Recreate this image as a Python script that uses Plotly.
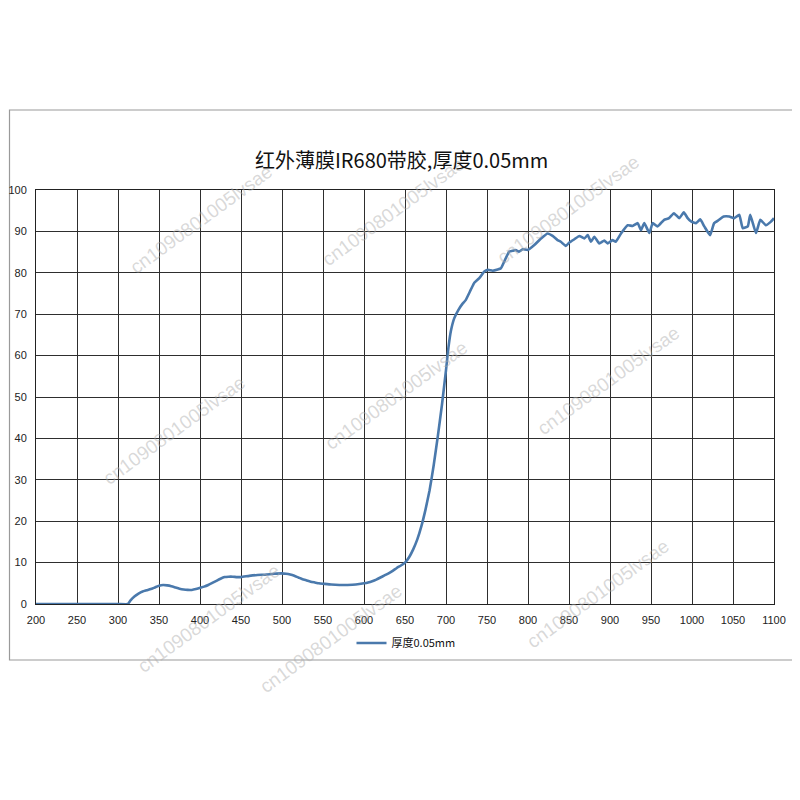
import plotly.graph_objects as go

# ---- data ----
wavelength = [200, 250, 300, 312, 315, 320, 325, 330, 335, 340, 345, 350, 355, 360, 365, 370,
              375, 380, 385, 390, 395, 400, 405, 410, 415, 420, 425, 430, 435, 440, 445, 450,
              460, 470, 480, 490, 500, 505, 510, 515, 520, 525, 530, 535, 540, 545, 550, 560,
              570, 580, 590, 600, 605, 610, 615, 620, 625, 630, 635, 640, 645, 650, 655, 660,
              665, 670, 675, 680, 685, 690, 695, 700, 703, 706, 710, 715, 720, 724, 730, 734.5,
              740.6, 746.7, 750.8, 757, 763, 767, 771, 777, 781, 785, 789, 793.5, 799.6, 807.7,
              815.9, 824, 830, 836, 840, 846, 850.4, 856.5, 862.6, 868.7, 872.8, 876.8, 880.9,
              887, 893, 897, 903, 907, 913.4, 921.6, 927.6, 933.8, 937.8, 941.8, 948, 952, 958,
              966, 972, 978, 984.5, 990, 994.7, 998.8, 1004.9, 1010, 1015, 1022, 1027, 1033,
              1038.6, 1045.5, 1051.6, 1057.7, 1061.8, 1068, 1071, 1078, 1083.3, 1090, 1096, 1100]
transmittance = [0, 0, 0, 0, 0.8, 1.8, 2.5, 3.0, 3.3, 3.6, 4.0, 4.4, 4.6, 4.5, 4.3, 4.0,
                 3.7, 3.5, 3.4, 3.4, 3.6, 3.9, 4.2, 4.6, 5.1, 5.6, 6.1, 6.5, 6.6, 6.6, 6.5, 6.5,
                 6.8, 7.0, 7.1, 7.3, 7.4, 7.3, 7.1, 6.8, 6.4, 6.0, 5.7, 5.4, 5.2, 5.0, 4.9, 4.7,
                 4.6, 4.6, 4.7, 5.0, 5.2, 5.5, 5.9, 6.4, 6.9, 7.4, 8.0, 8.7, 9.3, 10.0, 11.3, 13.2,
                 15.6, 18.8, 22.8, 27.5, 33.5, 40.5, 48.0, 56.5, 62.0, 66.0, 69.0, 71.0, 72.5, 73.4, 75.8, 77.6,
                 78.7, 80.3, 80.7, 80.5, 80.8, 81.1, 82.7, 85.1, 85.3, 85.5, 85.1, 85.7, 85.5, 86.7,
                 88.3, 89.5, 88.9, 87.9, 87.5, 86.5, 87.3, 88.1, 88.9, 88.3, 89.1, 87.5, 88.7,
                 87.1, 87.8, 87.1, 87.9, 87.5, 89.5, 91.5, 91.3, 92.0, 90.3, 92.0, 89.6, 92.0, 91.2,
                 92.8, 93.2, 94.4, 93.2, 94.6, 93.2, 92.4, 92.0, 92.9, 91.2, 89.1, 92.0, 92.8,
                 93.6, 93.6, 93.2, 94.0, 90.8, 91.2, 94.0, 89.6, 92.8, 91.5, 92.3, 93.2]

series_name = "厚度0.05mm"
chart_title = "红外薄膜IR680带胶,厚度0.05mm"
x_ticks = list(range(200, 1101, 50))
y_ticks = list(range(0, 101, 10))
watermark = "cn1090801005lvsae"

# page offset observed in rendering (body margin)
OX, OY = 7, 8
L, T = 35 - OX, 190 - OY
R = 800 - (773 - OX)
B = 800 - (604 - OY)
pw, ph = 800 - L - R, 800 - T - B

def px2paper(px, py):
    return (px - OX - L) / pw, (800 - B - (py - OY)) / ph

fig = go.Figure()
fig.add_trace(go.Scatter(
    x=wavelength, y=transmittance, mode="lines", name=series_name,
    line=dict(color="#4A79AC", width=2.6, shape="spline", smoothing=0.4),
))

# outer chart border
bx0, by0 = px2paper(8.5, 660)
bx1, by1 = px2paper(797, 110)
fig.add_shape(type="rect", xref="paper", yref="paper",
              x0=bx0, x1=bx1, y0=by0, y1=by1,
              line=dict(color="#9a9a9a", width=1.2), fillcolor="rgba(0,0,0,0)", layer="below")

# watermarks
wm_pos = [(122, 158), (392, 150), (645, 148), (95, 430), (395, 395), (685, 380),
          (130, 680), (330, 700), (675, 655)]
for (px, py) in wm_pos:
    ax, ay = px2paper(px, py)
    fig.add_annotation(x=ax, y=ay, xref="paper", yref="paper",
                       text=watermark, showarrow=False, textangle=-36,
                       font=dict(family="Arial, Liberation Sans", size=19,
                                 color="rgba(170,170,170,0.45)"))

# title as annotation
tx, ty = px2paper(400, 160)
fig.add_annotation(x=tx, y=ty, xref="paper", yref="paper", text=chart_title,
                   showarrow=False, xanchor="center", yanchor="middle",
                   font=dict(family="Noto Sans CJK SC", size=20, color="#111"))

lx, ly = px2paper(405, 643)
fig.update_layout(
    width=800, height=800,
    paper_bgcolor="white", plot_bgcolor="white",
    margin=dict(l=L, r=R, t=T, b=B, autoexpand=False),
    showlegend=True,
    legend=dict(orientation="h", x=lx, xanchor="center", y=ly, yanchor="middle",
                font=dict(family="Noto Sans CJK SC", size=11, color="#111"),
                bgcolor="rgba(0,0,0,0)"),
    xaxis=dict(range=[200, 1100], tickvals=x_ticks, ticktext=[str(v) for v in x_ticks],
               showgrid=True, gridcolor="#2e2e2e", gridwidth=1,
               showline=True, linecolor="#222", linewidth=1, mirror=True,
               ticks="", zeroline=False, automargin=False, ticklabelstandoff=6,
               tickfont=dict(family="Arial, Liberation Sans", size=11, color="#222")),
    yaxis=dict(range=[0, 100], tickvals=y_ticks, ticktext=[str(v) for v in y_ticks],
               showgrid=True, gridcolor="#2e2e2e", gridwidth=1,
               showline=True, linecolor="#222", linewidth=1, mirror=True,
               ticks="", zeroline=False, automargin=False, ticklabelstandoff=6,
               tickfont=dict(family="Arial, Liberation Sans", size=11, color="#222")),
)
fig.write_html("out.html")
